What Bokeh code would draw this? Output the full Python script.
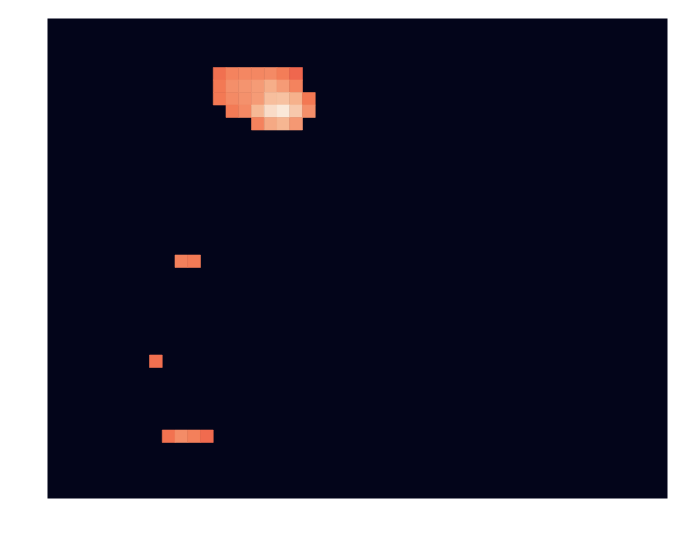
import numpy as np
from bokeh.plotting import figure
from bokeh.models import ColumnDataSource, LinearColorMapper, Range1d
from bokeh.transform import transform
from bokeh.embed import file_html
from bokeh.resources import INLINE

# grid size (columns x rows), rows counted from the bottom; empty cells are value 0
n_cols = 49
n_rows = 39

# non-empty cells: (column, row, value)
cell_cols = [13, 14, 15, 16, 17, 18, 19,
             13, 14, 15, 16, 17, 18, 19,
             13, 14, 15, 16, 17, 18, 19, 20,
             14, 15, 16, 17, 18, 19, 20,
             16, 17, 18, 19,
             10, 11,
             8,
             9, 10, 11, 12]
cell_rows = [34] * 7 + [33] * 7 + [32] * 8 + [31] * 7 + [30] * 4 + [19] * 2 + [11] + [5] * 4
cell_vals = [0.70, 0.745, 0.75, 0.75, 0.76, 0.73, 0.68,
             0.72, 0.77, 0.785, 0.80, 0.84, 0.80, 0.745,
             0.72, 0.76, 0.775, 0.80, 0.88, 0.89, 0.85, 0.715,
             0.725, 0.755, 0.87, 0.96, 0.99, 0.91, 0.77,
             0.74, 0.83, 0.86, 0.79,
             0.735, 0.725,
             0.70,
             0.705, 0.765, 0.735, 0.69]

# rocket-like palette
anchors = [(0.0, "#03051a"), (0.143, "#35193e"), (0.286, "#701f57"), (0.429, "#ad1759"),
           (0.571, "#e13342"), (0.714, "#f37651"), (0.857, "#f6b48f"), (1.0, "#faebdd")]
def hex2rgb(h):
    return [int(h[i:i + 2], 16) for i in (1, 3, 5)]
pos = np.array([a[0] for a in anchors])
rgb = np.array([hex2rgb(a[1]) for a in anchors], dtype=float)
palette = []
for t in np.linspace(0, 1, 256):
    c = [int(round(np.interp(t, pos, rgb[:, k]))) for k in range(3)]
    palette.append("#%02x%02x%02x" % tuple(c))

src = ColumnDataSource(dict(x=np.array(cell_cols) + 0.5,
                            y=np.array(cell_rows) + 0.5,
                            v=cell_vals))

mapper = LinearColorMapper(palette=palette, low=0, high=1)

p = figure(width=677, height=545, output_backend="svg", toolbar_location=None,
           x_range=Range1d(0, 48.63), y_range=Range1d(0.52, 38.92),
           min_border_left=47, min_border_right=10, min_border_top=18, min_border_bottom=47)
p.rect(x="x", y="y", width=1, height=1, source=src,
       fill_color=transform("v", mapper), line_color=transform("v", mapper), line_width=0.6)
p.xaxis.visible = False
p.yaxis.visible = False
p.grid.visible = False
p.outline_line_color = None
# empty cells (value 0) take the lowest palette colour
p.background_fill_color = palette[0]
p.border_fill_color = "white"

open("out.html", "w").write(file_html(p, INLINE))
